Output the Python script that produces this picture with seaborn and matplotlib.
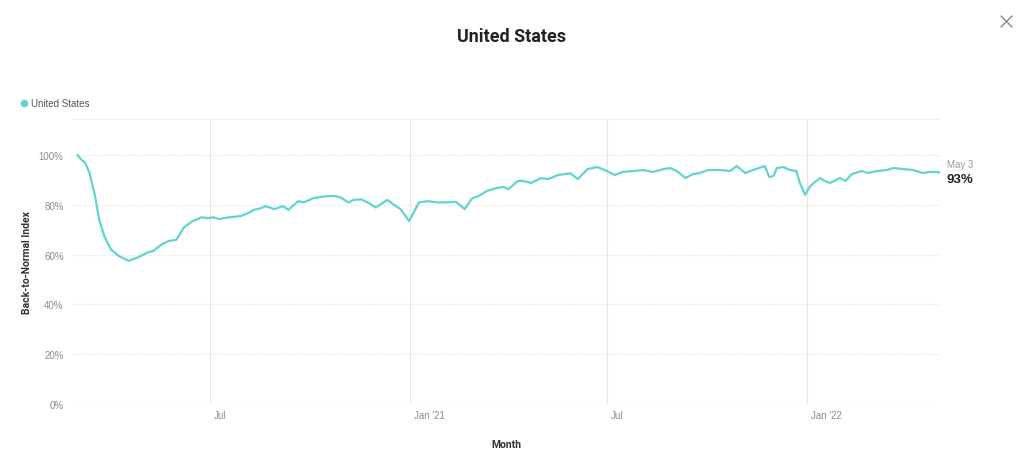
import pandas as pd
import matplotlib.pyplot as plt
from matplotlib.lines import Line2D
from matplotlib.ticker import FuncFormatter
from matplotlib.transforms import ScaledTranslation
import seaborn as sns

# days since 2020-03-01 and back-to-normal index (%)
days = [0, 4, 7, 11, 16, 20, 25, 31, 38, 47, 56, 65, 70, 77, 84, 91, 98, 106, 114, 120,
        125, 130, 139, 150, 157, 162, 169, 173, 181, 189, 194, 203, 208, 217, 227, 236, 242, 249, 254, 261,
        268, 274, 279, 285, 291, 297, 305, 314, 322, 331, 340, 348, 356, 363, 369, 377, 386, 392, 396, 405,
        410, 417, 426, 433, 442, 453, 460, 469, 478, 487, 494, 501, 511, 520, 529, 539, 545, 551, 559, 566,
        572, 580, 591, 600, 606, 614, 621, 632, 636, 640, 643, 649, 655, 661, 664, 669, 673, 678, 683, 687,
        692, 701, 706, 712, 721, 727, 735, 744, 750, 759, 768, 777, 783, 790, 793]
index = [100, 98, 97, 93, 84, 74, 67, 62, 59.5, 57.5, 59, 61, 61.5, 64, 65.5, 66, 71, 73.5, 75, 74.7,
         75, 74.3, 75, 75.5, 76.7, 78, 78.7, 79.5, 78.3, 79.5, 78, 81.5, 81, 82.7, 83.4, 83.6, 83, 81, 82, 82.2,
         80.7, 79, 80.3, 82, 80, 78.3, 73.5, 81, 81.5, 81, 81, 81.2, 78.3, 82.7, 83.6, 85.7, 86.8, 87.2, 86.3, 89.6,
         89.6, 88.8, 90.7, 90.4, 92, 92.7, 90.4, 94.4, 95.2, 93.6, 92, 93.2, 93.6, 94, 93.2, 94.4, 94.8, 93.6, 90.8, 92.4,
         92.8, 94, 94, 93.6, 95.6, 92.8, 94, 95.6, 91.2, 91.6, 94.8, 95.2, 94, 93.6, 89, 84, 87.2, 89.2, 90.8, 89.6,
         88.8, 90.8, 89.6, 92.4, 93.6, 92.8, 93.6, 94, 94.8, 94.4, 94, 92.8, 93.2, 93.2, 93]
xticks = ["2020-07-01", "2021-01-01", "2021-07-01", "2022-01-01"]
xtick_labels = ["Jul", "Jan '21", "Jul", "Jan '22"]
yticks = [0, 20, 40, 60, 80, 100]

df = pd.DataFrame({"date": pd.to_datetime("2020-03-01") + pd.to_timedelta(days, unit="D"),
                   "value": index})

sns.set_style("white")
plt.rcParams["font.family"] = ["Roboto", "DejaVu Sans"]

color = "#62d3d3"
fig = plt.figure(figsize=(10.24, 4.77), dpi=100)
ax = fig.add_axes([72 / 1024, 1 - 405 / 477, 868 / 1024, 285 / 477])

sns.lineplot(data=df, x="date", y="value", ax=ax, color=color, linewidth=1.6, legend=False)

ax.set_ylim(0, 114.5)
ax.set_xlim(pd.Timestamp("2020-02-25"), df["date"].iloc[-1])
ax.set_yticks(yticks)
ax.yaxis.set_major_formatter(FuncFormatter(lambda v, p: f"{v:.0f}%"))
ax.set_xticks(pd.to_datetime(xticks))
ax.set_xticklabels(xtick_labels, ha="left")
ax.tick_params(axis="both", length=0, labelsize=7, labelcolor="#8c8c8c")
ax.tick_params(axis="y", pad=6)
ax.tick_params(axis="x", pad=4)
for lab in ax.get_xticklabels():
    lab.set_fontfamily(["Liberation Sans", "DejaVu Sans"])
    lab.set_transform(lab.get_transform() + ScaledTranslation(4 / 100, 0, fig.dpi_scale_trans))
for lab in ax.get_yticklabels():
    lab.set_fontfamily(["Liberation Sans", "DejaVu Sans"])

for y in yticks:
    ax.axhline(y, color="#e6e6e6", lw=0.8, ls=(0, (1, 1)) if y else "-", zorder=0)
for d in pd.to_datetime(xticks):
    ax.axvline(d, color="#e6e6e6", lw=0.8, zorder=0)
for s in ax.spines.values():
    s.set_visible(False)
ax.axhline(114.5, color="#efefef", lw=0.8, zorder=0)

ax.set_xlabel("Month", fontsize=7.5, fontweight="bold", color="#333333", labelpad=14)
ax.set_ylabel("Back-to-Normal Index", fontsize=7.5, fontweight="bold", color="#333333", labelpad=5)

fig.text(0.5, 1 - 37 / 477, "United States", ha="center", va="center", fontsize=13,
         fontweight="bold", color="#222222")

# legend
fig.add_artist(Line2D([24 / 1024], [1 - 104 / 477], marker="o", markersize=4.5, color=color, lw=0))
fig.text(31 / 1024, 1 - 104 / 477, "United States", ha="left", va="center", fontsize=7,
         color="#555555", family=["Liberation Sans", "DejaVu Sans"])

# end label
last = df.iloc[-1]
ax.annotate(last["date"].strftime("%b ") + str(last["date"].day), (last["date"], last["value"]),
            xytext=(5, 6), textcoords="offset points", fontsize=7, color="#999999", va="center",
            family=["Liberation Sans", "DejaVu Sans"])
ax.annotate(f"{last['value']:.0f}%", (last["date"], last["value"]),
            xytext=(5, -5), textcoords="offset points", fontsize=9.5, fontweight="bold",
            color="#222222", va="center", family=["Liberation Sans", "DejaVu Sans"])

# close button
for a, b in [((1001, 17), (1012, 28)), ((1001, 28), (1012, 17))]:
    fig.add_artist(Line2D([a[0] / 1024, b[0] / 1024], [1 - a[1] / 477, 1 - b[1] / 477],
                          color="#888888", lw=1.0))

fig.savefig("out.png", dpi=100)
